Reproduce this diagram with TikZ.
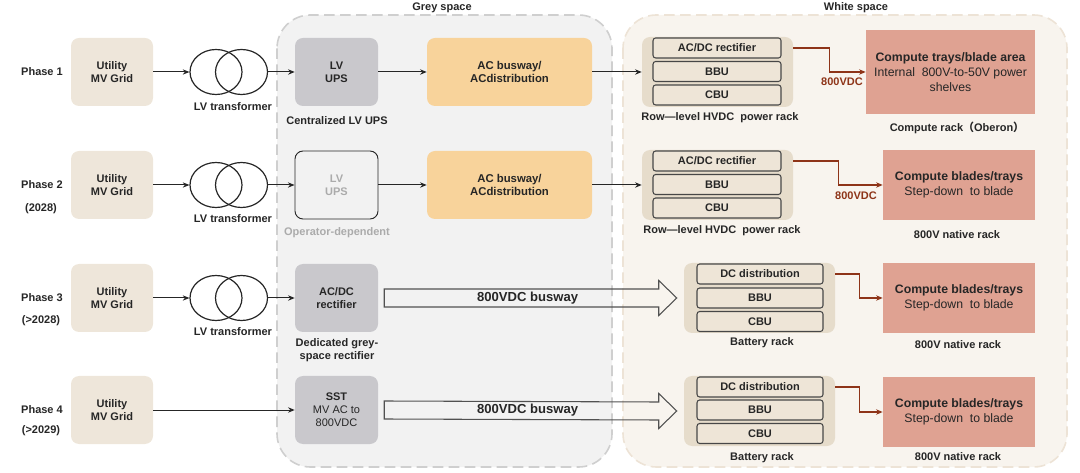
\documentclass[tikz,border=0pt]{standalone}
\usepackage{fontspec}
\setmainfont{Liberation Sans}
\newfontfamily\cjk{Noto Sans CJK SC}
\usetikzlibrary{arrows.meta,shapes.geometric,calc}
\definecolor{txt}{HTML}{262626}
\definecolor{utilfill}{HTML}{EEE6DA}
\definecolor{upsfill}{HTML}{C9C8CC}
\definecolor{busfill}{HTML}{F8D39B}
\definecolor{rackfill}{HTML}{E6DCCB}
\definecolor{innerfill}{HTML}{EEE5D7}
\definecolor{compfill}{HTML}{DFA292}
\definecolor{greybg}{HTML}{F2F2F2}
\definecolor{greyline}{HTML}{CFCFCF}
\definecolor{whitebg}{HTML}{F8F4EE}
\definecolor{whiteline}{HTML}{EDE3D6}
\definecolor{redc}{HTML}{8E3418}
\definecolor{lightt}{HTML}{ABABAB}
\begin{document}
\begin{tikzpicture}[x=0.75pt,y=-0.75pt,
  every node/.style={text=txt,font=\fontsize{8.25}{9.6}\selectfont\bfseries,align=center,inner sep=0pt},
  util/.style={fill=utilfill,rounded corners=6pt,minimum width=61.5pt,minimum height=51pt},
  ups/.style={fill=upsfill,rounded corners=6pt,minimum width=62.25pt,minimum height=51pt},
  upsopen/.style={draw=txt,line width=0.7pt,fill=greybg,rounded corners=6pt,minimum width=62.25pt,minimum height=51pt,text=lightt},
  bus/.style={fill=busfill,rounded corners=6pt,minimum width=123.75pt,minimum height=51pt,font=\fontsize{8.5}{10}\selectfont\bfseries},
  rack/.style={fill=rackfill,rounded corners=6pt,minimum width=113.25pt,minimum height=52.5pt},
  inner/.style={draw=txt!85,line width=0.8pt,fill=innerfill,rounded corners=2pt,minimum width=96pt,minimum height=15pt},
  binner/.style={inner,minimum width=94.5pt},
  comp/.style={fill=compfill,minimum width=114pt,minimum height=52.5pt,font=\fontsize{9.2}{11}\selectfont\bfseries},
  trans/.style={draw=txt,line width=0.9pt,ellipse,minimum width=39pt,minimum height=33.75pt},
  arr/.style={draw=txt,line width=0.75pt,-{Stealth[length=5pt,width=4pt]}},
  redarr/.style={draw=redc,line width=1pt,-{Stealth[length=5pt,width=4pt]}},
  busarrow/.style={draw=txt!80,line width=0.8pt}
]
\useasboundingbox (0,0) rectangle (1080,473);
% regions
\draw[greyline,fill=greybg,line width=1.2pt,dash pattern=on 8pt off 4pt,rounded corners=25pt] (277,15) rectangle (612,467);
\draw[whiteline,fill=whitebg,line width=1.2pt,dash pattern=on 8pt off 4pt,rounded corners=25pt] (623,15) rectangle (1067,467);
\node (greylbl) at (442,8) {Grey space};
\node (whitelbl) at (856,8) {White space};

% phase labels
\node (ph1) at (42,72) {Phase 1};
\node (ph2) at (42,185) {Phase 2};
\node (ph2y) at (41,209) {(2028)};
\node (ph3) at (42,298) {Phase 3};
\node (ph3y) at (41,321) {(>2028)};
\node (ph4) at (42,410) {Phase 4};
\node (ph4y) at (41,431) {(>2029)};

% utility boxes
\node[util] (u1) at (112,72) {Utility\\MV Grid};
\node[util] (u2) at (112,185) {Utility\\MV Grid};
\node[util] (u3) at (112,298) {Utility\\MV Grid};
\node[util] (u4) at (112,410) {Utility\\MV Grid};

% transformers
\node[trans] (t1a) at (216,72) {};
\node[trans] (t1b) at (241.5,72) {};
\node[trans] (t2a) at (216,185) {};
\node[trans] (t2b) at (241.5,185) {};
\node[trans] (t3a) at (216,298) {};
\node[trans] (t3b) at (241.5,298) {};
\node (t1l) at (233,107) {LV transformer};
\node (t2l) at (233,219) {LV transformer};
\node (t3l) at (233,332) {LV transformer};

% grey space devices
\node[ups] (g1) at (336.5,72) {LV\\UPS};
\node[upsopen] (g2) at (336.5,185) {LV\\UPS};
\node[ups] (g3) at (336.5,298) {AC/DC\\rectifier};
\node[ups] (g4) at (336.5,410) {SST\\{\mdseries MV AC to}\\{\mdseries 800VDC}};
\node (g1l) at (337,121) {Centralized LV UPS};
\node[text=lightt] (g2l) at (337,233) {Operator-dependent};
\node (g3l) at (337,350) {Dedicated grey-\\space rectifier};

\node[bus] (b1) at (509.5,72) {AC busway/\\ACdistribution};
\node[bus] (b2) at (509.5,185) {AC busway/\\ACdistribution};

% HVDC racks
\node[rack] (r1) at (717.5,72) {};
\node[inner] (r1a) at (717,48) {AC/DC rectifier};
\node[inner] (r1b) at (717,71.5) {BBU};
\node[inner] (r1c) at (717,95) {CBU};
\node (r1l) at (720,118) {Row—level HVDC\ \ power rack};
\node[rack] (r2) at (717.5,185) {};
\node[inner] (r2a) at (717,161) {AC/DC rectifier};
\node[inner] (r2b) at (717,184.5) {BBU};
\node[inner] (r2c) at (717,208) {CBU};
\node (r2l) at (722,231) {Row—level HVDC\ \ power rack};

% battery racks
\node[rack] (r3) at (759.5,298) {};
\node[binner] (r3a) at (760,274) {DC distribution};
\node[binner] (r3b) at (760,298) {BBU};
\node[binner] (r3c) at (760,321.5) {CBU};
\node (r3l) at (762,343) {Battery rack};
\node[rack] (r4) at (759.5,411) {};
\node[binner] (r4a) at (760,387) {DC distribution};
\node[binner] (r4b) at (760,410) {BBU};
\node[binner] (r4c) at (760,433.5) {CBU};
\node (r4l) at (762,458) {Battery rack};

% compute
\node[comp,minimum width=126.75pt,minimum height=63pt] (c1) at (950.5,72) {Compute trays/blade area\\{\mdseries Internal\ \ 800V-to-50V power}\\{\mdseries shelves}};
\node[comp] (c2) at (959,185) {Compute blades/trays\\{\mdseries Step-down\ \ to blade}};
\node[comp] (c3) at (959,298) {Compute blades/trays\\{\mdseries Step-down\ \ to blade}};
\node[comp] (c4) at (959,412) {Compute blades/trays\\{\mdseries Step-down\ \ to blade}};
\node (c1l) at (957,128) {Compute rack{\cjk （}Oberon{\cjk ）}};
\node (c2l) at (957,235) {800V native rack};
\node (c3l) at (958,345) {800V native rack};
\node (c4l) at (958,457) {800V native rack};

% black connectors
\draw[arr] (u1.east) -- (t1a.west);
\draw[arr] (t1b.east) -- (g1.west);
\draw[arr] (g1.east) -- (b1.west);
\draw[arr] (b1.east) -- (r1.west);
\draw[arr] (u2.east) -- (t2a.west);
\draw[arr] (t2b.east) -- (g2.west);
\draw[arr] (g2.east) -- (b2.west);
\draw[arr] (b2.east) -- (r2.west);
\draw[arr] (u3.east) -- (t3a.west);
\draw[arr] (t3b.east) -- (g3.west);
\draw[arr] (u4.east) -- (g4.west);

% red connectors
\draw[redarr] (r1a.east -| r1.east) -- ++(36,0) |- (c1.west);
\draw[redarr] (r2a.east -| r2.east) -- ++(45,0) |- (c2.west);
\draw[redarr] (r3a.east -| r3.east) -- ++(24,0) |- (c3.west);
\draw[redarr] (r4a.east -| r4.east) -- ++(24,0) |- (c4.west);
\node[text=redc] (v1) at (842,82) {800VDC};
\node[text=redc] (v2) at (856,196) {800VDC};

% busway block arrows
\foreach \s/\e/\n in {g3/r3/3,g4/r4/4}{
  \path ($(\s.east)+(6,0)$) coordinate (bs\n);
  \path ($(\e.west)+(-7,0)$) coordinate (be\n);
  \draw[busarrow] ($(bs\n)+(0,-9)$) -- ($(be\n)+(-18,-9)$) -- ($(be\n)+(-18,-17.5)$) -- (be\n)
     -- ($(be\n)+(-18,17.5)$) -- ($(be\n)+(-18,9)$) -- ($(bs\n)+(0,9)$) -- cycle;
  \node[font=\fontsize{9.8}{11}\selectfont\bfseries] (bl\n) at ($(bs\n)!0.49!(be\n)$) {800VDC busway};
}
\end{tikzpicture}
\end{document}
